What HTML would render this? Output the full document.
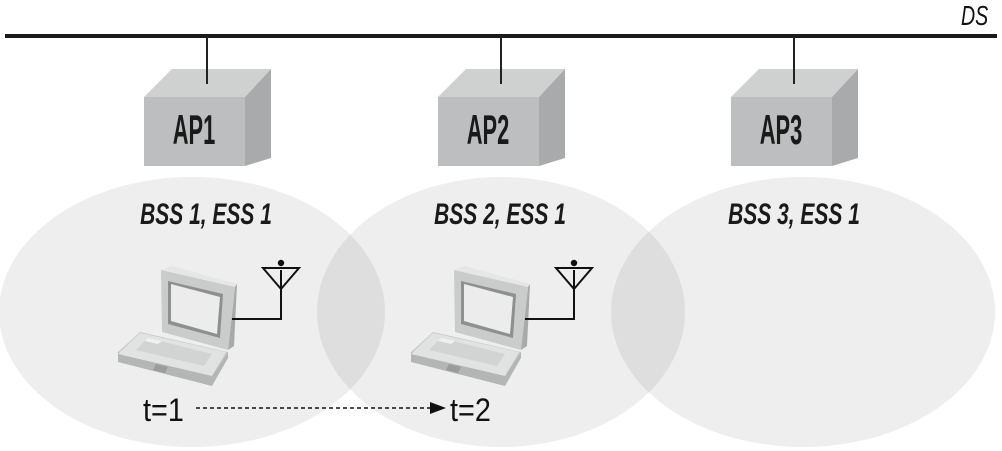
<!DOCTYPE html>
<html><head><meta charset="utf-8"><style>
html,body{margin:0;padding:0;background:#fff;width:1002px;height:451px;overflow:hidden}
</style></head><body>
<svg width="1002" height="451" viewBox="0 0 1002 451" xmlns="http://www.w3.org/2000/svg" font-family="'Liberation Sans', Arial, sans-serif">
<defs>
<g id="ap">
  <line x1="207" y1="36" x2="207" y2="84" stroke="#222" stroke-width="2"/>
  <polygon points="144,97 172,69 271,69 245,97" fill="#cfd0d0"/>
  <polygon points="245,97 271,69 271,158 245,166" fill="#a9aaab"/>
  <rect x="144" y="97" width="101" height="69" fill="#bdbebf"/>
  <line x1="207" y1="69" x2="207" y2="84" stroke="#222" stroke-width="2"/>
</g>
<g id="lap">
  <polygon points="118,352 140,332 228,352 212,384 118,362" fill="#c9caca"/>
  <polygon points="118,352 212,376 228,352 228,358 212,386 118,362" fill="#b4b5b5"/>
  <polygon points="140,333 226,352 212,376 118,354" fill="#e1e2e2"/>
  <polygon points="148,338 212,354 204,366 136,350" fill="#d2d3d3"/>
  <polygon points="148,338 162,341 158,344 145,341" fill="#f0f0f0"/>
  <polygon points="156,364 168,367 165,373 153,370" fill="#9a9b9b"/>
  <polygon points="161,270 172,266 237,284 235,287" fill="#e6e6e6"/>
  <polygon points="235,287 237,284 234,346 228,350" fill="#a8a9a9"/>
  <polygon points="161,270 235,287 228,350 162,332" fill="#cacbcb"/>
  <polygon points="168,281 223,294 220,338 168,324" fill="#8e8f8f"/>
  <polygon points="171,284 220,297 217,334 171,321" fill="#ececec"/>
  <polyline points="232,319 281,319 281,270" fill="none" stroke="#111" stroke-width="2"/>
  <polygon points="263,268 299,268 281,289" fill="none" stroke="#111" stroke-width="2"/>
  <circle cx="281" cy="263" r="3.2" fill="#111"/>
</g>
</defs>
<ellipse cx="192" cy="312" rx="193" ry="135" fill="#000" fill-opacity="0.065"/>
<ellipse cx="501" cy="312" rx="184" ry="135" fill="#000" fill-opacity="0.065"/>
<ellipse cx="803" cy="312" rx="192" ry="135" fill="#000" fill-opacity="0.065"/>
<line x1="5" y1="36" x2="997" y2="36" stroke="#1a1a1a" stroke-width="4"/>
<text font-size="28" font-style="italic" fill="#111" transform="translate(961 25) scale(0.7 1)">DS</text>
<use href="#ap"/>
<use href="#ap" transform="translate(294 0)"/>
<use href="#ap" transform="translate(587 0)"/>
<g font-size="42" font-weight="bold" fill="#1a1a1a" text-anchor="middle">
<text transform="translate(194 144) scale(0.52 1)">AP1</text>
<text transform="translate(488 144) scale(0.52 1)">AP2</text>
<text transform="translate(781 144) scale(0.52 1)">AP3</text>
</g>
<g font-size="30" font-weight="bold" font-style="italic" fill="#1a1a1a" text-anchor="middle">
<text transform="translate(206 224) scale(0.7 1)">BSS 1, ESS 1</text>
<text transform="translate(500 224) scale(0.7 1)">BSS 2, ESS 1</text>
<text transform="translate(794 224) scale(0.7 1)">BSS 3, ESS 1</text>
</g>
<use href="#lap"/>
<use href="#lap" transform="translate(293 0)"/>
<g font-size="32" fill="#111">
<text transform="translate(143 421) scale(0.9 1)">t=1</text>
<text transform="translate(450 421) scale(0.9 1)">t=2</text>
</g>
<line x1="196" y1="408" x2="432" y2="408" stroke="#111" stroke-width="1.6" stroke-dasharray="4,3"/>
<polygon points="430,402 446,408 430,414" fill="#111"/>
</svg>
</body></html>
